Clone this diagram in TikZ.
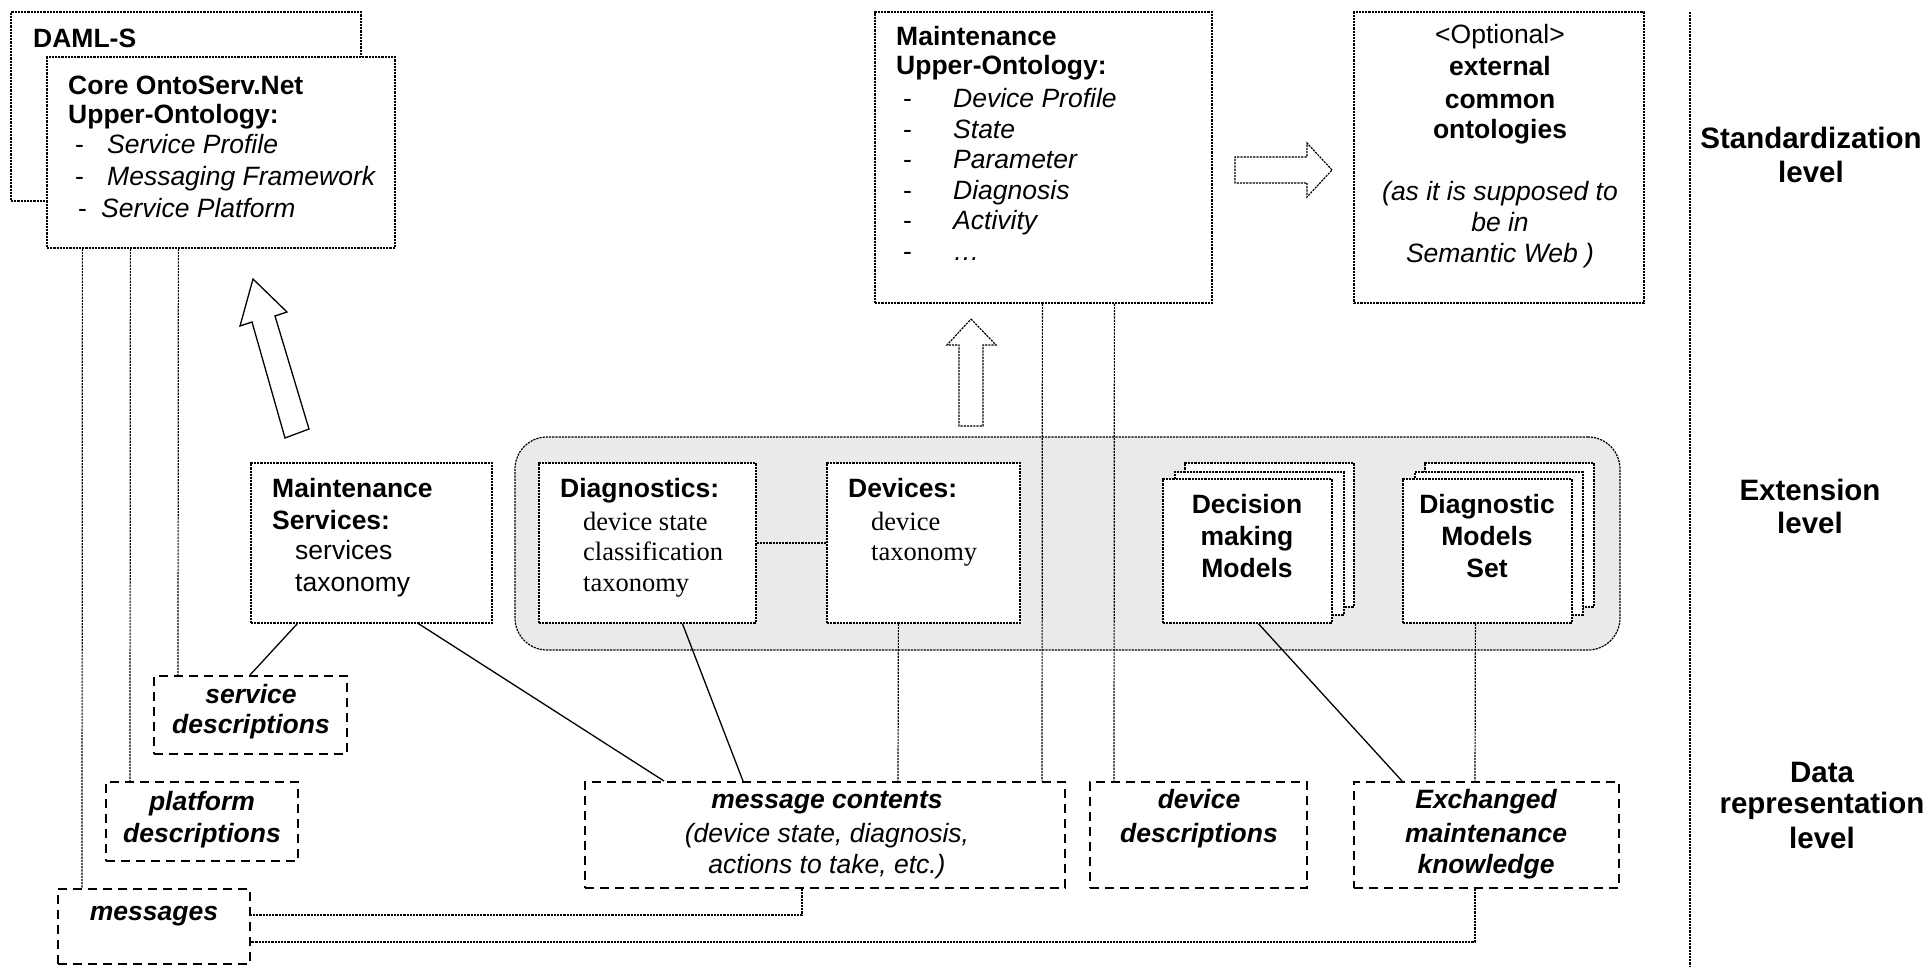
\documentclass[tikz,border=0pt]{standalone}
\usepackage{fontspec}
\setmainfont{Liberation Sans}
\newfontfamily\timesfont{Liberation Serif}
\usetikzlibrary{fit}
\definecolor{panelgray}{RGB}{234,234,234}
\tikzset{
  fine/.style={line width=1.2pt, dash pattern=on 2.2pt off 1pt},
  solidln/.style={line width=1.3pt},
  fbox/.style={draw, fine, fill=white, inner sep=0pt},
  dbox/.style={draw, line width=2pt, dash pattern=on 9pt off 6pt, fill=white, inner sep=0pt},
  lbl/.style={inner sep=0pt, font=\fontsize{26.5}{31}\selectfont},
  lvl/.style={inner sep=0pt, font=\fontsize{29.5}{34}\selectfont\bfseries},
}
% text line helpers: left-aligned / centred on a baseline point
\newcommand\TxtL[3]{\node[lbl, anchor=base west] (#1) at (#2) {#3};}
\newcommand\TxtC[3]{\node[lbl, anchor=base] (#1) at (#2) {#3};}
\newcommand\LvlC[3]{\node[lvl, anchor=base] (#1) at (#2) {#3};}

\begin{document}
\begin{tikzpicture}[x=1pt, y=-1pt]
\useasboundingbox (0,0) rectangle (1926,967);

% ---------- standardization level ----------
\node[fbox, fit={(11,12) (361,201)}] (daml) {};
\node[fbox, fit={(47,57) (395,248)}] (core) {};
\node[fbox, fit={(875,12) (1212,303)}] (muo) {};
\node[fbox, fit={(1354,12) (1644,303)}] (extont) {};

% ---------- extension level ----------
\node[draw, fine, fill=panelgray, rounded corners=32pt, inner sep=0pt,
      fit={(515,437) (1620,650)}] (panel) {};
\node[fbox, fit={(251,463) (492,623)}] (ms) {};
\node[fbox, fit={(539,463) (756,623)}] (diag) {};
\node[fbox, fit={(827,463) (1020,623)}] (dev) {};
% stacked model sheets
\node[fbox, fit={(1185,463) (1354,607)}] (decB) {};
\node[fbox, fit={(1175,472) (1344,615)}] (decM) {};
\node[fbox, fit={(1163,479) (1332,623)}] (dec) {};
\node[fbox, fit={(1425,463) (1594,607)}] (dmsB) {};
\node[fbox, fit={(1415,472) (1583,615)}] (dmsM) {};
\node[fbox, fit={(1403,479) (1572,623)}] (dms) {};

% ---------- data representation level ----------
\node[dbox, fit={(154,676) (347,754)}] (sd) {};
\node[dbox, fit={(106,782) (298,861)}] (pd) {};
\node[dbox, fit={(58,889) (250,964)}] (msgs) {};
\node[dbox, fit={(585,782) (1065,888)}] (mc) {};
\node[dbox, fit={(1090,782) (1307,888)}] (dd) {};
\node[dbox, fit={(1354,782) (1619,888)}] (ex) {};

% ---------- block arrows ----------
\draw[solidln, fill=white] (253,279) -- (287,312) -- (275,316) -- (309,429)
      -- (285,438) -- (252,322) -- (240,326) -- cycle;
\draw[fine, fill=white] (971,319) -- (996,345) -- (983,345) -- (983,426)
      -- (959,426) -- (959,345) -- (947,345) -- cycle;
\draw[fine, fill=white] (1332,170) -- (1307,143) -- (1307,157) -- (1235,157)
      -- (1235,183) -- (1307,183) -- (1307,197) -- cycle;

% ---------- connectors ----------
\draw[fine] ([xshift=36pt]core.south west) -- ([xshift=25pt]msgs.north west);
\draw[fine] ([xshift=84pt]core.south west) -- ([xshift=25pt]pd.north west);
\draw[fine] ([xshift=132pt]core.south west) -- ([xshift=25pt]sd.north west);
\draw[solidln] ([xshift=47pt]ms.south west) -- ([xshift=97pt]sd.north west);
\draw[solidln] ([xshift=168pt]ms.south west) -- ([xshift=80pt]mc.north west);
\draw[fine] (diag) -- (dev);
\draw[solidln] ([xshift=144pt]diag.south west) -- ([xshift=159pt]mc.north west);
\draw[fine] ([xshift=72pt]dev.south west) -- ([xshift=314pt]mc.north west);
\draw[fine] ([xshift=168pt]muo.south west) -- ([xshift=458pt]mc.north west);
\draw[fine] ([xshift=240pt]muo.south west) -- ([xshift=25pt]dd.north west);
\draw[solidln] ([xshift=96pt]dec.south west) -- ([xshift=49pt]ex.north west);
\draw[fine] ([xshift=73pt]dms.south west) -- ([xshift=122pt]ex.north west);
\draw[fine] ([xshift=218pt]mc.south west) |- ([yshift=11.5pt]msgs.east);
\draw[fine] ([xshift=122pt]ex.south west) |- ([yshift=-15.5pt]msgs.east);

% level separator
\draw[fine] (1690,12) -- (1690,967);

% ---------- texts ----------
\TxtL{tdaml}{33,47}{\bfseries DAML-S}
\TxtL{tcore1}{68,94}{\bfseries Core OntoServ.Net}
\TxtL{tcore2}{68,123}{\bfseries Upper-Ontology:}
\TxtL{tcd1}{75,153}{-}
\TxtL{tcore3}{107,153}{\itshape Service Profile}
\TxtL{tcd2}{75,185}{-}
\TxtL{tcore4}{107,185}{\itshape Messaging Framework}
\TxtL{tcd3}{78,217}{-}
\TxtL{tcore5}{101,217}{\itshape Service Platform}

\TxtL{tmuo1}{896,45}{\bfseries Maintenance}
\TxtL{tmuo2}{896,74}{\bfseries Upper-Ontology:}
\foreach \yy/\it [count=\i] in {107/Device Profile, 138/State, 168/Parameter,
                                199/Diagnosis, 229/Activity, 260/…}{
  \TxtL{tmd\i}{903,\yy}{-}
  \TxtL{tmi\i}{953,\yy}{\itshape \it}
}

\TxtC{text1}{1500,43}{<Optional>}
\TxtC{text2}{1500,75}{\bfseries external}
\TxtC{text3}{1500,108}{\bfseries common}
\TxtC{text4}{1500,138}{\bfseries ontologies}
\TxtC{text5}{1500,200}{\itshape (as it is supposed to}
\TxtC{text6}{1500,231}{\itshape be in}
\TxtC{text7}{1500,262}{\itshape Semantic Web )}

\TxtL{tms1}{272,497}{\bfseries Maintenance}
\TxtL{tms2}{272,529}{\bfseries Services:}
\TxtL{tms3}{295,559}{services}
\TxtL{tms4}{295,591}{taxonomy}

\TxtL{tdg1}{560,497}{\bfseries Diagnostics:}
\TxtL{tdg2}{583,530}{\timesfont device state}
\TxtL{tdg3}{583,560}{\timesfont classification}
\TxtL{tdg4}{583,591}{\timesfont taxonomy}

\TxtL{tdv1}{848,497}{\bfseries Devices:}
\TxtL{tdv2}{871,530}{\timesfont device}
\TxtL{tdv3}{871,560}{\timesfont taxonomy}

\TxtC{tdec1}{1247,513}{\bfseries Decision}
\TxtC{tdec2}{1247,545}{\bfseries making}
\TxtC{tdec3}{1247,577}{\bfseries Models}
\TxtC{tdms1}{1487,513}{\bfseries Diagnostic}
\TxtC{tdms2}{1487,545}{\bfseries Models}
\TxtC{tdms3}{1487,577}{\bfseries Set}

\TxtC{tsd1}{251,703}{\bfseries\itshape service}
\TxtC{tsd2}{251,733}{\bfseries\itshape descriptions}
\TxtC{tpd1}{202,810}{\bfseries\itshape platform}
\TxtC{tpd2}{202,842}{\bfseries\itshape descriptions}
\TxtC{tmsg}{154,920}{\bfseries\itshape messages}
\TxtC{tmc1}{827,808}{\bfseries\itshape message contents}
\TxtC{tmc2}{827,842}{\itshape (device state, diagnosis,}
\TxtC{tmc3}{827,873}{\itshape actions to take, etc.)}
\TxtC{tdd1}{1199,808}{\bfseries\itshape device}
\TxtC{tdd2}{1199,842}{\bfseries\itshape descriptions}
\TxtC{tex1}{1486,808}{\bfseries\itshape Exchanged}
\TxtC{tex2}{1486,842}{\bfseries\itshape maintenance}
\TxtC{tex3}{1486,873}{\bfseries\itshape knowledge}

% level labels
\LvlC{lv1}{1811,148}{Standardization}
\LvlC{lv2}{1811,182}{level}
\LvlC{lv3}{1810,500}{Extension}
\LvlC{lv4}{1810,533}{level}
\LvlC{lv5}{1822,782}{Data}
\LvlC{lv6}{1822,813}{representation}
\LvlC{lv7}{1822,848}{level}
\end{tikzpicture}
\end{document}
